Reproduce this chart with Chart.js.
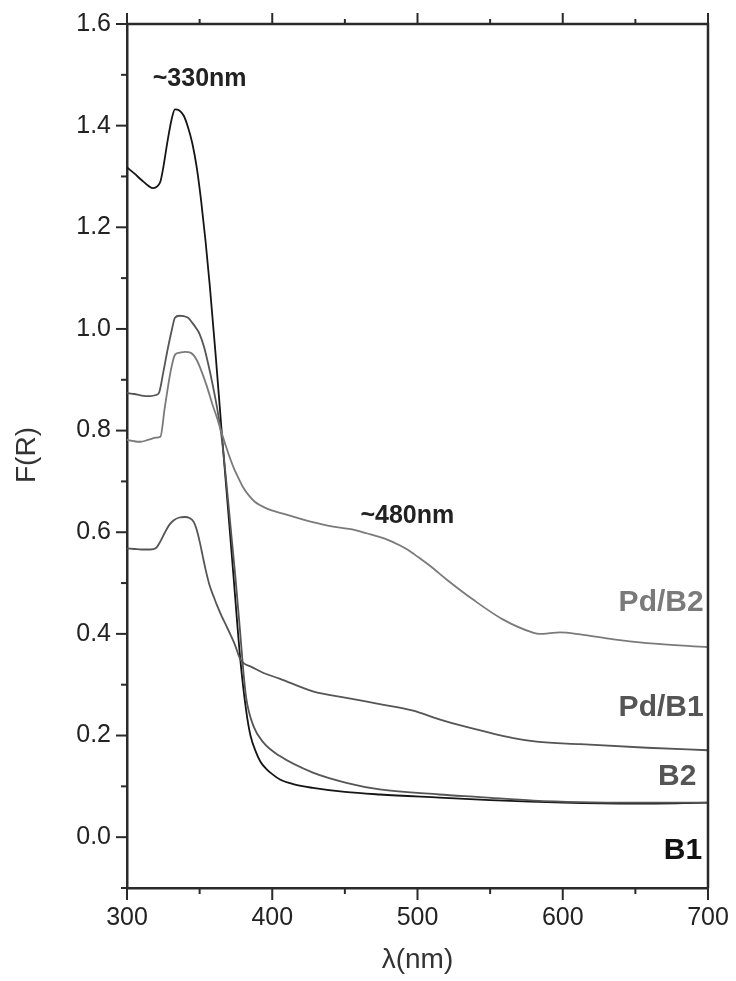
<!DOCTYPE html>
<html>
<head>
<meta charset="utf-8">
<title>F(R) spectra</title>
<script src="https://cdn.jsdelivr.net/npm/chart.js@4.4.1/dist/chart.umd.min.js"></script>
<style>
  html, body { margin: 0; padding: 0; background: #fff; }
  canvas { display: block; }
</style>
</head>
<body>
<canvas id="chart" width="736" height="981"></canvas>
<script>
// ---------------------------------------------------------------------------
// Diffuse reflectance spectra, F(R) vs wavelength, four samples.
// Values.
// ---------------------------------------------------------------------------

// --- data --------------------------------------------------------------------

const b1Wl = [300, 305, 310, 315, 318, 321, 323, 325, 328, 331, 333, 336, 339, 342,
  345, 348, 351, 354, 357, 361, 365, 369, 373, 378, 382, 385, 389, 392, 396, 400,
  405, 415, 428, 450, 474, 515, 550, 600, 650, 700];
const b1Val = [1.318, 1.306, 1.293, 1.281, 1.277, 1.281, 1.290, 1.318, 1.371, 1.416,
  1.432, 1.430, 1.420, 1.397, 1.365, 1.318, 1.253, 1.175, 1.085, 0.950, 0.805, 0.665,
  0.525, 0.350, 0.250, 0.200, 0.166, 0.148, 0.134, 0.124, 0.114, 0.104, 0.097, 0.089,
  0.084, 0.078, 0.073, 0.068, 0.066, 0.068];

const b2Wl = [300, 305, 310, 316, 320, 322, 325, 328, 331, 333, 336, 339, 342, 345,
  348, 350, 353, 356, 359, 362, 365, 368, 372, 375, 378, 380, 382, 387, 394, 405,
  428, 451, 474, 515, 543, 580, 612, 650, 700];
const b2Val = [0.874, 0.872, 0.869, 0.868, 0.870, 0.874, 0.915, 0.960, 1.000, 1.022,
  1.026, 1.025, 1.022, 1.012, 1.000, 0.990, 0.965, 0.930, 0.890, 0.845, 0.790, 0.710,
  0.590, 0.500, 0.400, 0.330, 0.275, 0.219, 0.186, 0.160, 0.127, 0.107, 0.094, 0.084,
  0.079, 0.072, 0.069, 0.068, 0.068];

const pdB1Wl = [300, 305, 310, 316, 320, 323, 326, 329, 332, 336, 340, 343, 346, 348,
  350, 352, 354, 357, 360, 362, 365, 368, 371, 374, 378, 381, 385, 394, 405, 428, 451,
  474, 497, 515, 531, 566, 582, 612, 658, 700];
const pdB1Val = [0.568, 0.567, 0.566, 0.566, 0.569, 0.582, 0.599, 0.614, 0.623, 0.629,
  0.630, 0.628, 0.620, 0.605, 0.582, 0.555, 0.528, 0.494, 0.471, 0.456, 0.436, 0.418,
  0.400, 0.381, 0.350, 0.341, 0.336, 0.323, 0.312, 0.287, 0.274, 0.262, 0.249, 0.232,
  0.219, 0.195, 0.188, 0.183, 0.176, 0.171];

const pdB2Wl = [300, 305, 309, 315, 320, 323, 326, 330, 333, 336, 340, 344, 348, 351,
  355, 359, 362, 365, 368, 371, 374, 377, 380, 384, 388, 396, 408, 419, 431, 442, 454,
  465, 477, 488, 493, 500, 509, 520, 538, 559, 580, 584, 590, 598, 612, 635, 658, 700];
const pdB2Val = [0.782, 0.779, 0.778, 0.782, 0.786, 0.788, 0.845, 0.916, 0.949, 0.953,
  0.955, 0.953, 0.939, 0.919, 0.887, 0.850, 0.825, 0.797, 0.770, 0.745, 0.723, 0.705,
  0.688, 0.672, 0.660, 0.647, 0.636, 0.627, 0.618, 0.611, 0.606, 0.598, 0.588, 0.574,
  0.566, 0.552, 0.533, 0.507, 0.468, 0.428, 0.402, 0.400, 0.401, 0.403, 0.399, 0.389,
  0.382, 0.374];

// Axis ranges and tick steps
const xMin = 300, xMax = 700, xStep = 50;
const yMin = -0.1, yMax = 1.6, yStep = 0.1;

// Text labels placed in data coordinates: [text, x(nm), y(F(R)), align, size, colour]
const notes = [
  ["~330nm", 350, 1.491, "center", 25, "#222"],
  ["~480nm", 493, 0.631, "center", 25, "#222"],
  ["Pd/B2", 697, 0.462, "right", 30, "#7a7a7a"],
  ["Pd/B1", 697, 0.255, "right", 30, "#555"],
  ["B2", 692, 0.118, "right", 30, "#555"],
  ["B1", 696, -0.026, "right", 30, "#111"],
];

// --- helpers -----------------------------------------------------------------

const FONT = "'Liberation Sans', Arial, sans-serif";
const AXIS = "#2a2a2a";

const pairs = (xs, ys) => xs.map((x, i) => ({ x, y: ys[i] }));

const line = (color, width, xs, ys) => ({
  data: pairs(xs, ys),
  borderColor: color,
  borderWidth: width,
  pointRadius: 0,
  fill: false,
  cubicInterpolationMode: "monotone",
});

// Keep the plot box fixed: no extra room for overhanging tick labels.
const noLabelPadding = (s) => {
  s.paddingLeft = s.paddingRight = s.paddingTop = s.paddingBottom = 0;
};

// Top/right frame, tick marks (major + minor), axis titles, curve labels.
const decorations = {
  id: "decorations",
  afterDraw(chart) {
    const { ctx, chartArea: a, scales: { x, y } } = chart;
    ctx.save();

    ctx.strokeStyle = AXIS;
    ctx.lineWidth = 2.5;
    ctx.beginPath();
    ctx.moveTo(a.left, a.top);
    ctx.lineTo(a.right, a.top);
    ctx.lineTo(a.right, a.bottom);
    ctx.stroke();

    ctx.lineWidth = 2;
    const seg = (x1, y1, x2, y2) => {
      ctx.beginPath(); ctx.moveTo(x1, y1); ctx.lineTo(x2, y2); ctx.stroke();
    };
    x.ticks.forEach((t) => {
      const px = x.getPixelForValue(t.value);
      const major = t.value % 100 === 0;
      seg(px, a.bottom, px, a.bottom + (major ? 12 : 6));
      seg(px, a.top, px, a.top - (major ? 11 : 5));
    });
    y.ticks.forEach((t) => {
      const py = y.getPixelForValue(t.value);
      const major = Math.round(t.value * 10) % 2 === 0;
      seg(a.left, py, a.left - (major ? 11 : 6), py);
    });

    // axis titles
    ctx.fillStyle = "#333";
    ctx.font = `28px ${FONT}`;
    ctx.textAlign = "center";
    ctx.textBaseline = "middle";
    ctx.fillText("λ(nm)", (a.left + a.right) / 2, 960);
    ctx.save();
    ctx.translate(27, 455);
    ctx.rotate(-Math.PI / 2);
    ctx.fillText("F(R)", 0, 0);
    ctx.restore();

    // curve and peak labels
    notes.forEach(([text, nx, ny, align, size, color]) => {
      ctx.font = `bold ${size}px ${FONT}`;
      ctx.fillStyle = color;
      ctx.textAlign = align;
      ctx.fillText(text, x.getPixelForValue(nx), y.getPixelForValue(ny));
    });

    ctx.restore();
  },
};

// --- chart -------------------------------------------------------------------

new Chart(document.getElementById("chart"), {
  type: "line",
  data: {
    datasets: [
      line("#7a7a7a", 1.8, pdB2Wl, pdB2Val),
      line("#555555", 1.8, pdB1Wl, pdB1Val),
      line("#555555", 1.8, b2Wl, b2Val),
      line("#151515", 1.8, b1Wl, b1Val),
    ],
  },
  options: {
    responsive: false,
    animation: false,
    layout: { padding: { top: 24, right: 28, left: 0, bottom: 0 } },
    plugins: { legend: { display: false }, tooltip: { enabled: false } },
    scales: {
      x: {
        type: "linear",
        min: xMin, max: xMax,
        grid: { display: false, drawTicks: false },
        border: { display: true, color: AXIS, width: 2.5 },
        afterFit: (s) => { s.height = 93; noLabelPadding(s); },
        ticks: {
          stepSize: xStep,
          autoSkip: false,
          maxRotation: 0,
          padding: 15,
          color: "#222",
          font: { family: FONT, size: 25 },
          callback: (v) => (v % 100 === 0 ? String(v) : ""),
        },
      },
      y: {
        min: yMin, max: yMax,
        grid: { display: false, drawTicks: false },
        border: { display: true, color: AXIS, width: 2.5 },
        afterFit: (s) => { s.width = 127; noLabelPadding(s); },
        ticks: {
          stepSize: yStep,
          autoSkip: false,
          padding: 16,
          color: "#222",
          font: { family: FONT, size: 25 },
          callback: (v) => (Math.round(v * 10) % 2 === 0 ? v.toFixed(1) : ""),
        },
      },
    },
  },
  plugins: [decorations],
});
</script>
</body>
</html>
